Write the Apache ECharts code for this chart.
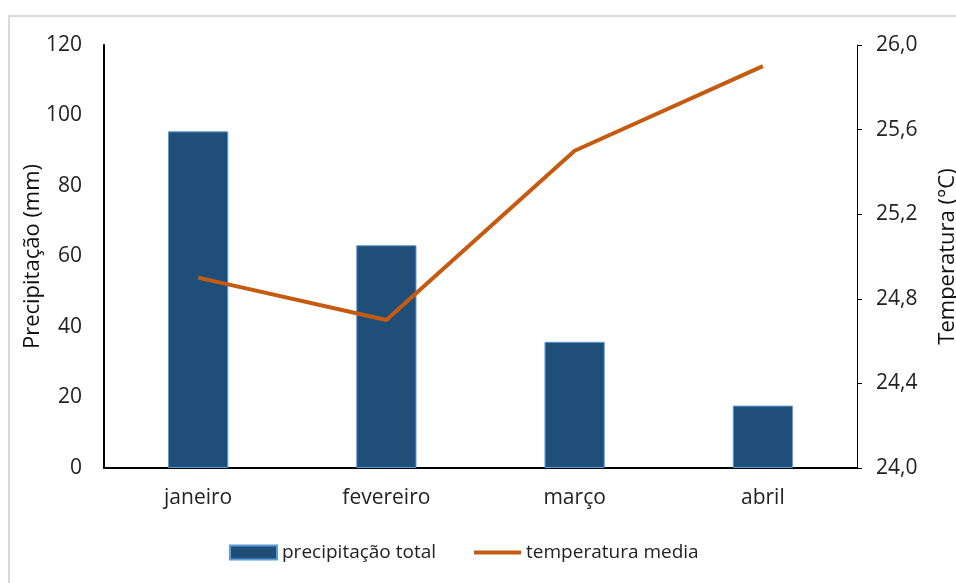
<!DOCTYPE html>
<html>
<head>
<meta charset="utf-8">
<script src="https://cdn.jsdelivr.net/npm/echarts@6/dist/echarts.min.js"></script>
<style>
html,body{margin:0;padding:0;background:#fff;}
#frame{position:absolute;left:8px;top:15px;width:960px;height:600px;border:2px solid #d9d9d9;box-sizing:border-box;}
#chart{position:absolute;left:0;top:0;width:956px;height:583px;}
</style>
</head>
<body>
<div id="frame"></div>
<div id="chart"></div>
<script>
const categories = ['janeiro', 'fevereiro', 'março', 'abril'];
const precipitacao = [95.5, 63.2, 35.8, 17.7];
const temperatura = [24.9, 24.7, 25.5, 25.9];
const leftTicks = [0, 20, 40, 60, 80, 100, 120];
const rightTicks = [24.0, 24.4, 24.8, 25.2, 25.6, 26.0];

const FONT = 'Open Sans';
const TICK = 21;
const chart = echarts.init(document.getElementById('chart'), null, {renderer: 'canvas'});
chart.setOption({
  animation: false,
  textStyle: {fontFamily: FONT},
  grid: {left: 104, right: 99, top: 45, bottom: 115, containLabel: false, outerBoundsMode: 'none'},
  legend: {
    bottom: 16,
    left: 224,
    itemGap: 38,
    itemWidth: 47,
    itemHeight: 14,
    textStyle: {fontFamily: FONT, fontSize: 19, color: '#222'},
    data: [
      {name: 'precipitação total', icon: 'rect'},
      {name: 'temperatura media', icon: 'path://M0,0 L48,0 L48,4 L0,4 Z'}
    ]
  },
  xAxis: {
    type: 'category',
    data: categories,
    axisLine: {lineStyle: {color: '#000', width: 2}},
    axisTick: {show: false},
    axisLabel: {fontFamily: FONT, fontSize: TICK, color: '#222', margin: 20}
  },
  yAxis: [
    {
      type: 'value',
      min: leftTicks[0],
      max: leftTicks[leftTicks.length - 1],
      interval: 20,
      name: 'Precipitação (mm)',
      nameLocation: 'middle',
      nameRotate: 90,
      nameGap: 60,
      nameMoveOverlap: false,
      nameTextStyle: {fontFamily: FONT, fontSize: 22, color: '#111'},
      axisLine: {show: true, lineStyle: {color: '#000', width: 2}},
      axisTick: {show: false},
      splitLine: {show: false},
      axisLabel: {fontFamily: FONT, fontSize: TICK, color: '#222', margin: 22}
    },
    {
      type: 'value',
      min: rightTicks[0],
      max: rightTicks[rightTicks.length - 1],
      interval: 0.4,
      position: 'right',
      name: 'Temperatura (°C)',
      nameLocation: 'middle',
      nameRotate: 90,
      nameGap: 80,
      nameMoveOverlap: false,
      nameTextStyle: {fontFamily: FONT, fontSize: 22, color: '#111'},
      axisLine: {show: true, lineStyle: {color: '#000', width: 1}},
      axisTick: {show: true, length: 5, lineStyle: {color: '#000'}},
      splitLine: {show: false},
      axisLabel: {
        fontFamily: FONT, fontSize: TICK, color: '#222', margin: 19,
        formatter: v => v.toFixed(1).replace('.', ',')
      }
    }
  ],
  series: [
    {
      name: 'precipitação total',
      type: 'bar',
      data: precipitacao,
      barWidth: '32%',
      itemStyle: {color: '#1f4e79', borderColor: '#5b9bd5', borderWidth: 1}
    },
    {
      name: 'temperatura media',
      type: 'line',
      yAxisIndex: 1,
      data: temperatura,
      symbol: 'none',
      lineStyle: {color: '#c55a11', width: 4},
      itemStyle: {color: '#c55a11'}
    }
  ]
});
</script>
</body>
</html>
